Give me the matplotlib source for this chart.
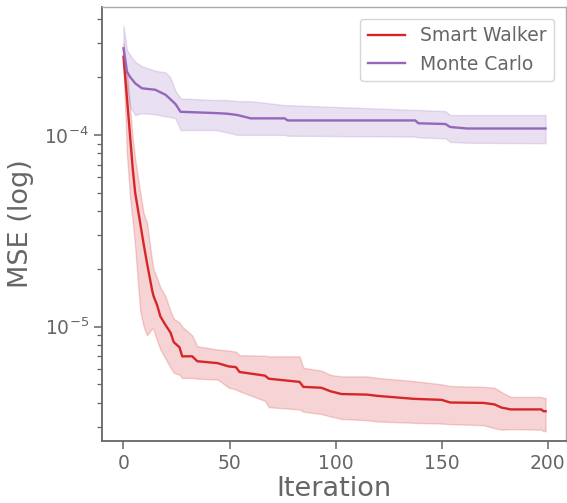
import matplotlib
matplotlib.use("Agg")
import matplotlib.pyplot as plt

# Smart Walker
sw_x = [0, 1.6, 3.2, 4.4, 5.5, 7.9, 9.5, 11.1, 13.5, 14.2, 15.8, 17.4, 19.8, 22.2, 23.7, 26.4, 27.7,
        32.4, 34.8, 44.4, 49.6, 53, 54.7, 66.7, 68.5, 83, 84.8, 93.3, 97.6, 102.8, 114.7, 120, 137,
        150, 154, 169.7, 174.9, 178.3, 182.6, 197, 198, 199]
sw_mean = [2.56e-4, 1.58e-4, 9.6e-5, 6.6e-5, 5.0e-5, 3.46e-5, 2.7e-5, 2.14e-5, 1.55e-5, 1.44e-5,
           1.3e-5, 1.13e-5, 1.02e-5, 9.3e-6, 8.3e-6, 7.8e-6, 7.0e-6, 7.0e-6, 6.6e-6, 6.45e-6, 6.2e-6,
           6.15e-6, 5.8e-6, 5.55e-6, 5.35e-6, 5.15e-6, 4.85e-6, 4.8e-6, 4.6e-6, 4.45e-6, 4.42e-6,
           4.35e-6, 4.2e-6, 4.15e-6, 4.02e-6, 4.0e-6, 3.93e-6, 3.78e-6, 3.7e-6, 3.7e-6, 3.62e-6,
           3.62e-6]
sw_upper = [3.0e-4, 2.2e-4, 1.35e-4, 9.5e-5, 7.5e-5, 5.0e-5, 3.9e-5, 3.47e-5, 2.2e-5, 1.98e-5,
            1.8e-5, 1.6e-5, 1.44e-5, 1.2e-5, 1.1e-5, 1.05e-5, 1.0e-5, 9.0e-6, 7.9e-6, 7.6e-6, 7.5e-6,
            7.4e-6, 7.1e-6, 7.05e-6, 7.0e-6, 7.0e-6, 6.1e-6, 5.9e-6, 5.6e-6, 5.5e-6, 5.5e-6, 5.4e-6,
            5.2e-6, 5.0e-6, 4.9e-6, 4.85e-6, 4.8e-6, 4.55e-6, 4.3e-6, 4.3e-6, 4.25e-6, 4.25e-6]
sw_lower = [2.3e-4, 8.0e-5, 4.6e-5, 3.5e-5, 2.6e-5, 1.2e-5, 1.0e-5, 9.0e-6, 9.8e-6, 9.6e-6,
            8.5e-6, 7.6e-6, 6.8e-6, 6.1e-6, 5.75e-6, 5.6e-6, 5.4e-6, 5.4e-6, 5.35e-6, 5.3e-6, 4.81e-6,
            4.7e-6, 4.6e-6, 4.1e-6, 3.8e-6, 3.7e-6, 3.6e-6, 3.5e-6, 3.4e-6, 3.3e-6, 3.25e-6, 3.2e-6,
            3.15e-6, 3.12e-6, 3.1e-6, 3.06e-6, 2.95e-6, 2.9e-6, 2.92e-6, 2.9e-6, 2.85e-6, 2.85e-6]

# Monte Carlo
mc_x = [0, 1.6, 3.2, 5.5, 8.7, 15, 19.8, 22, 24.5, 26.9, 43.5, 49, 53.7, 60, 76, 77.4, 137.6, 139,
        151.8, 154, 162, 199]
mc_mean = [2.83e-4, 2.14e-4, 2.0e-4, 1.86e-4, 1.75e-4, 1.72e-4, 1.62e-4, 1.54e-4, 1.45e-4, 1.32e-4,
           1.30e-4, 1.29e-4, 1.27e-4, 1.22e-4, 1.22e-4, 1.19e-4, 1.19e-4, 1.15e-4, 1.14e-4, 1.10e-4,
           1.08e-4, 1.08e-4]
mc_upper = [3.7e-4, 2.78e-4, 2.6e-4, 2.41e-4, 2.28e-4, 2.16e-4, 2.12e-4, 2.0e-4, 1.7e-4, 1.55e-4,
            1.52e-4, 1.52e-4, 1.5e-4, 1.5e-4, 1.43e-4, 1.43e-4, 1.35e-4, 1.35e-4, 1.33e-4, 1.27e-4,
            1.27e-4, 1.27e-4]
mc_lower = [2.4e-4, 1.79e-4, 1.40e-4, 1.27e-4, 1.30e-4, 1.28e-4, 1.25e-4, 1.24e-4, 1.22e-4, 1.06e-4,
            1.06e-4, 1.03e-4, 1.0e-4, 1.0e-4, 1.0e-4, 0.99e-4, 0.98e-4, 0.97e-4, 0.96e-4, 9.2e-5,
            9.1e-5, 9.05e-5]

xticks = [0, 50, 100, 150, 200]

RED = "#d62728"
PURPLE = "#9467bd"
TXT = "#666666"

plt.rcParams['font.family'] = ['DejaVu Sans']
fig = plt.figure(figsize=(5.67, 5.03), dpi=100)
ax = fig.add_axes([0.180, 0.1238, 0.8177, 0.8613])

ax.fill_between(sw_x, sw_lower, sw_upper, color=RED, alpha=0.2)
ax.plot(sw_x, sw_mean, color=RED, lw=1.7, label="Smart Walker")
ax.fill_between(mc_x, mc_lower, mc_upper, color=PURPLE, alpha=0.2)
ax.plot(mc_x, mc_mean, color=PURPLE, lw=1.7, label="Monte Carlo")

ax.set_yscale('log')
ax.set_ylim(2.54e-6, 4.62e-4)
ax.set_xlim(-10.1, 208.5)
ax.set_xticks(xticks)

ax.set_xlabel("Iteration", fontsize=19.5, color=TXT, labelpad=2)
ax.set_ylabel("MSE (log)", fontsize=19.5, color=TXT, labelpad=7)

ax.tick_params(axis='both', which='major', labelsize=13.5, labelcolor=TXT, color=TXT,
               length=6, width=1.1)
ax.tick_params(axis='y', which='minor', color=TXT, length=3.5, width=0.9)

for s in ['left', 'bottom']:
    ax.spines[s].set_color('#666666')
    ax.spines[s].set_linewidth(1.3)
for s in ['top', 'right']:
    ax.spines[s].set_color('#aaaaaa')
    ax.spines[s].set_linewidth(1.0)

leg = ax.legend(loc='upper right', fontsize=13.5, frameon=True, fancybox=True,
                borderaxespad=0.6)
for t in leg.get_texts():
    t.set_color(TXT)
leg.get_frame().set_edgecolor('#cccccc')

fig.savefig("out.png", dpi=100)
